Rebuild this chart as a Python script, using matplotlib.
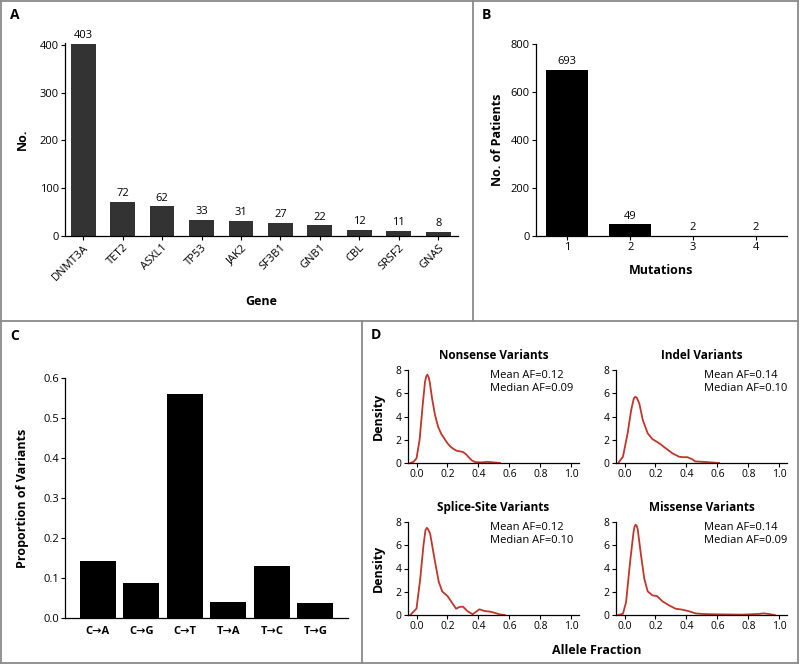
import matplotlib
matplotlib.use("Agg")
import matplotlib.pyplot as plt
from matplotlib.lines import Line2D

plt.rcParams['font.family'] = ['Open Sans', 'DejaVu Sans']

# ---------------- data ----------------
genes = ["DNMT3A", "TET2", "ASXL1", "TP53", "JAK2", "SF3B1", "GNB1", "CBL", "SRSF2", "GNAS"]
gene_counts = [403, 72, 62, 33, 31, 27, 22, 12, 11, 8]

mutations = [1, 2, 3, 4]
patients = [693, 49, 2, 2]

subst = ["C\u2192A", "C\u2192G", "C\u2192T", "T\u2192A", "T\u2192C", "T\u2192G"]
subst_prop = [0.142, 0.087, 0.559, 0.041, 0.130, 0.038]

nons_x = [-0.04, -0.02, 0.0, 0.02, 0.04, 0.055, 0.063, 0.07, 0.078, 0.085, 0.10, 0.12, 0.14,
          0.16, 0.18, 0.20, 0.22, 0.24, 0.26, 0.28, 0.30, 0.32, 0.34, 0.36, 0.38, 0.42, 0.46,
          0.50, 0.54]
nons_y = [0.0, 0.1, 0.4, 2.0, 5.0, 7.0, 7.45, 7.6, 7.4, 7.0, 5.6, 4.1, 3.1,
          2.5, 2.1, 1.7, 1.4, 1.2, 1.05, 1.0, 0.95, 0.75, 0.45, 0.2, 0.08, 0.05, 0.1,
          0.05, 0.0]

indel_x = [-0.04, -0.01, 0.02, 0.043, 0.06, 0.07, 0.08, 0.096, 0.118, 0.15, 0.18, 0.224,
           0.267, 0.31, 0.353, 0.38, 0.406, 0.438, 0.457, 0.52, 0.61]
indel_y = [0.0, 0.55, 2.55, 4.55, 5.55, 5.7, 5.6, 5.1, 3.7, 2.55, 2.06, 1.7,
           1.26, 0.83, 0.54, 0.5, 0.5, 0.32, 0.14, 0.09, 0.0]

splice_x = [-0.04, 0.0, 0.024, 0.045, 0.058, 0.067, 0.076, 0.088, 0.116, 0.144, 0.166, 0.20,
            0.234, 0.256, 0.277, 0.30, 0.33, 0.363, 0.406, 0.44, 0.47, 0.503, 0.535, 0.57]
splice_y = [0.0, 0.55, 3.1, 6.0, 7.3, 7.5, 7.35, 7.0, 4.85, 2.84, 2.03, 1.63,
            0.97, 0.54, 0.69, 0.72, 0.32, 0.06, 0.49, 0.34, 0.3, 0.2, 0.06, 0.0]

miss_x = [-0.04, -0.01, 0.01, 0.036, 0.058, 0.065, 0.072, 0.079, 0.085, 0.107, 0.128, 0.15,
          0.18, 0.21, 0.246, 0.288, 0.33, 0.374, 0.417, 0.46, 0.50, 0.59, 0.76, 0.865, 0.90,
          0.93, 0.97]
miss_y = [0.0, 0.11, 1.1, 4.55, 7.1, 7.6, 7.77, 7.65, 7.4, 5.1, 3.1, 2.03,
          1.69, 1.63, 1.17, 0.83, 0.54, 0.46, 0.32, 0.14, 0.09, 0.06, 0.03, 0.09, 0.14,
          0.09, 0.0]

d_titles = ["Nonsense Variants", "Indel Variants", "Splice-Site Variants", "Missense Variants"]
d_means = ["0.12", "0.14", "0.12", "0.14"]
d_medians = ["0.09", "0.10", "0.10", "0.09"]

# ---------------- figure ----------------
W, H = 800, 665
fig = plt.figure(figsize=(8, 6.65), dpi=100)


def ax_px(x0, x1, ytop, ybot):
    return fig.add_axes([x0 / W, 1 - ybot / H, (x1 - x0) / W, (ybot - ytop) / H])


def style(ax, fs=8):
    for s in ("top", "right"):
        ax.spines[s].set_visible(False)
    for s in ("left", "bottom"):
        ax.spines[s].set_linewidth(0.9)
    ax.tick_params(direction="out", length=3, width=0.8, labelsize=fs, pad=1.5)


TXT = 8
LAB = 9

# Panel A
axA = ax_px(65, 458, 42.6, 236)
xa = list(range(len(genes)))
axA.bar(xa, gene_counts, width=0.63, color="#333333")
for x, v in zip(xa, gene_counts):
    axA.text(x, v + 6, str(v), ha="center", va="bottom", fontsize=TXT)
axA.set_xlim(-0.46, 9.5)
axA.set_ylim(0, 405)
axA.set_yticks([0, 100, 200, 300, 400])
axA.set_xticks(xa)
axA.set_xticklabels(genes, rotation=45, ha="right", rotation_mode="anchor")
style(axA)
axA.set_ylabel("No.", fontsize=LAB, fontweight="bold", labelpad=8)
axA.set_xlabel("Gene", fontsize=LAB, fontweight="bold", labelpad=9)

# Panel B
axB = ax_px(536, 787, 44, 236)
axB.bar(mutations, patients, width=0.67, color="black")
for x, v in zip(mutations, patients):
    axB.text(x, v + 10, str(v), ha="center", va="bottom", fontsize=TXT)
axB.set_xlim(0.5, 4.5)
axB.set_ylim(0, 800)
axB.set_yticks([0, 200, 400, 600, 800])
axB.set_xticks(mutations)
style(axB)
axB.set_ylabel("No. of Patients", fontsize=LAB, fontweight="bold", labelpad=5)
axB.set_xlabel("Mutations", fontsize=LAB, fontweight="bold", labelpad=8)

# Panel C
axC = ax_px(65, 348, 378, 618)
xc = list(range(len(subst)))
axC.bar(xc, subst_prop, width=0.83, color="black")
axC.set_xlim(-0.75, 5.75)
axC.set_ylim(0, 0.6)
axC.set_yticks([0, 0.1, 0.2, 0.3, 0.4, 0.5, 0.6])
axC.set_yticklabels(["0.0", "0.1", "0.2", "0.3", "0.4", "0.5", "0.6"])
axC.set_xticks(xc)
axC.set_xticklabels(subst, fontweight="bold")
style(axC)
axC.tick_params(axis="x", length=0, pad=6)
axC.set_ylabel("Proportion of Variants", fontsize=LAB, fontweight="bold", labelpad=10)

# Panel D
curves = [(nons_x, nons_y), (indel_x, indel_y), (splice_x, splice_y), (miss_x, miss_y)]
boxes = [(408, 579, 370, 463), (616, 787, 370, 463), (408, 579, 522, 615), (616, 787, 522, 615)]
for i, ((cx, cy), (x0, x1, yt, yb)) in enumerate(zip(curves, boxes)):
    ax = ax_px(x0, x1, yt, yb)
    ax.plot(cx, cy, color="#C0362C", lw=1.3, clip_on=False, solid_joinstyle="round")
    ax.set_xlim(-0.055, 1.05)
    ax.set_ylim(0, 8)
    ax.set_yticks([0, 2, 4, 6, 8])
    ax.set_xticks([0, 0.2, 0.4, 0.6, 0.8, 1.0])
    ax.set_xticklabels(["0.0", "0.2", "0.4", "0.6", "0.8", "1.0"])
    style(ax, fs=7.5)
    ax.set_title(d_titles[i], fontsize=8.5, fontweight="bold", pad=8)
    tx = 0.48 if i % 2 == 0 else 0.515
    ax.text(tx, 0.946, "Mean AF=" + d_means[i], transform=ax.transAxes, fontsize=TXT,
            va="center", ha="left")
    ax.text(tx, 0.806, "Median AF=" + d_medians[i], transform=ax.transAxes, fontsize=TXT,
            va="center", ha="left")
    if i % 2 == 0:
        ax.set_ylabel("Density", fontsize=LAB, fontweight="bold", labelpad=8)

fig.text(597 / W, 1 - 651 / H, "Allele Fraction", ha="center", va="center",
         fontsize=LAB, fontweight="bold")

# Panel letters
for lab, x, y in [("A", 10, 15), ("B", 482, 15), ("C", 10, 336), ("D", 371, 335)]:
    fig.text(x / W, 1 - y / H, lab, ha="left", va="center", fontsize=10, fontweight="bold")

# Borders
bc = "#8a8a8a"
blw = 1.3
segs = [((1, 798), (1, 1)), ((1, 798), (663, 663)), ((1, 1), (1, 663)), ((798, 798), (1, 663)),
        ((1, 798), (321, 321)), ((473, 473), (1, 321)), ((362, 362), (321, 663))]
for xs, ys in segs:
    fig.add_artist(Line2D([x / W for x in xs], [1 - y / H for y in ys], color=bc, lw=blw,
                          transform=fig.transFigure))

fig.savefig("out.png", dpi=100, facecolor="white")
